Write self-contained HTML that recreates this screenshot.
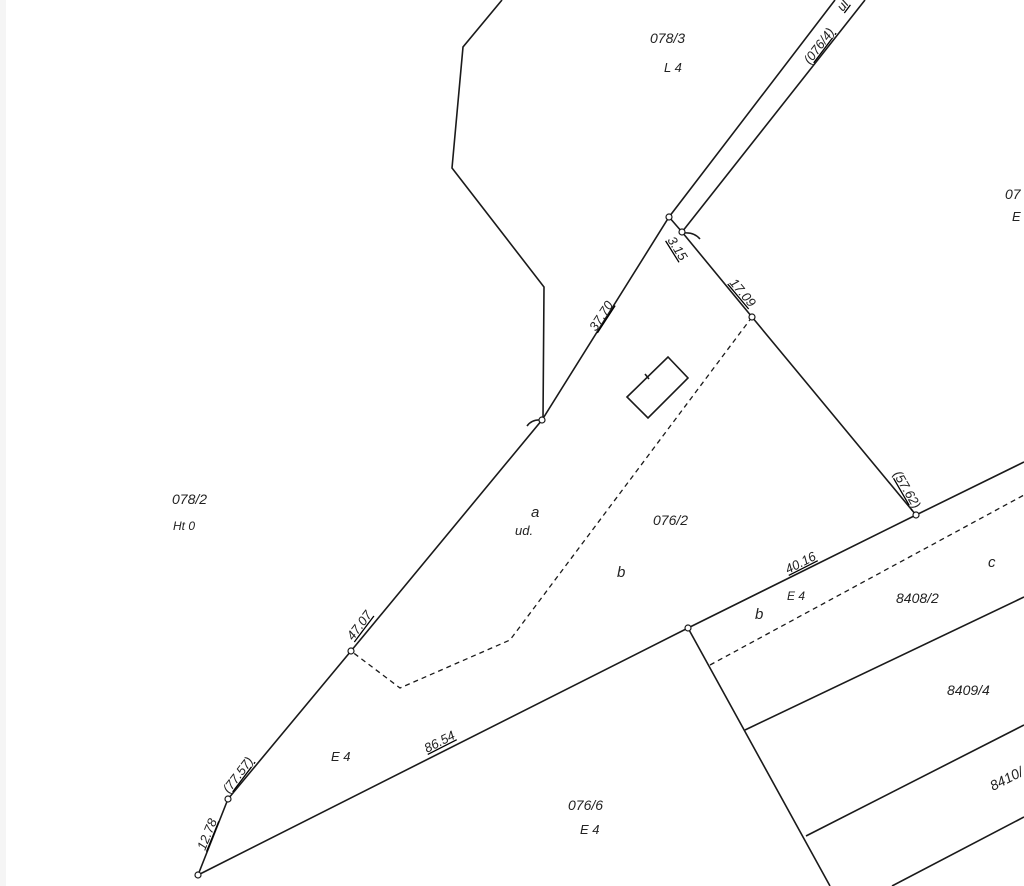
<!DOCTYPE html>
<html><head><meta charset="utf-8"><style>
html,body{margin:0;padding:0;background:#fff;}
svg{display:block;}
text{font-family:"Liberation Sans",sans-serif;font-style:italic;fill:#222;}
</style></head><body>
<svg width="1024" height="886" viewBox="0 0 1024 886" xmlns="http://www.w3.org/2000/svg">
<rect x="0" y="0" width="1024" height="886" fill="#fff"/>
<rect x="0" y="0" width="6" height="886" fill="#f5f5f5"/>
<g stroke="#1a1a1a" stroke-width="1.6" fill="none">
<polyline points="502,0 463,47 452,168 544,287 543,420"/>
<polyline points="198,875 228,799 351,651 542,420 669,217 835,0"/>
<polyline points="682,232 865,0"/>
<polyline points="669,217 682,232 752,317 916,515"/>
<polyline points="198,875 688,628 916,515 1024,462"/>
<line x1="688" y1="628" x2="830" y2="886"/>
<line x1="745" y1="730" x2="1024" y2="597"/>
<line x1="806" y1="836" x2="1024" y2="725"/>
<line x1="892" y1="886" x2="1024" y2="817"/>
<polygon points="627,397 668,357 688,378 648,418"/>
<line x1="645" y1="374" x2="649" y2="379"/>
<path d="M542,420 Q532,419 527,426"/>
<path d="M684,233 Q694,232 700,239"/>
</g>
<g stroke="#1a1a1a" stroke-width="1.3" fill="none" stroke-dasharray="5,4">
<polyline points="752,317 510,640 400,688 351,651"/>
<line x1="710" y1="665" x2="1024" y2="495"/>
</g>
<g stroke="#1a1a1a" stroke-width="1.2" fill="#fff">
<circle cx="669" cy="217" r="3"/><circle cx="682" cy="232" r="3"/>
<circle cx="752" cy="317" r="3"/><circle cx="916" cy="515" r="3"/>
<circle cx="542" cy="420" r="3"/><circle cx="351" cy="651" r="3"/>
<circle cx="228" cy="799" r="3"/><circle cx="198" cy="875" r="3"/>
<circle cx="688" cy="628" r="3"/>
</g>
<g font-size="14">
<text x="650" y="43">078/3</text>
<text x="664" y="72" font-size="13">L 4</text>
<text x="1005" y="199">07</text>
<text x="1012" y="221" font-size="13">E</text>
<text x="172" y="504">078/2</text>
<text x="173" y="530" font-size="12">Ht 0</text>
<text x="531" y="517" font-size="15">a</text>
<text x="515" y="535" font-size="13">ud.</text>
<text x="653" y="525">076/2</text>
<text x="617" y="577" font-size="15">b</text>
<text x="755" y="619" font-size="15">b</text>
<text x="988" y="567" font-size="15">c</text>
<text x="787" y="600" font-size="12">E 4</text>
<text x="896" y="603">8408/2</text>
<text x="947" y="695">8409/4</text>
<text x="331" y="761" font-size="13">E 4</text>
<text x="568" y="810">076/6</text>
<text x="580" y="834" font-size="13">E 4</text>
<text x="0" y="0" transform="translate(993,791) rotate(-27)">8410/</text>
</g>
<g font-size="13" text-decoration="underline">
<text transform="translate(596,332) rotate(-57)">37.70</text>
<text transform="translate(667,240) rotate(58)">3.15</text>
<text transform="translate(729,283) rotate(50)">17.09</text>
<text transform="translate(893,474) rotate(60)">(57.62)</text>
<text transform="translate(788,574) rotate(-27)">40.16</text>
<text transform="translate(427,753) rotate(-27)">86.54</text>
<text transform="translate(353,641) rotate(-53)">47.07</text>
<text transform="translate(229,794) rotate(-53)">(77.57)</text>
<text transform="translate(205,851) rotate(-68)">12.78</text>
<text transform="translate(810,65) rotate(-53)">(076/4)</text>
<text transform="translate(843,12) rotate(-53)">ul</text>
</g>
</svg>
</body></html>
